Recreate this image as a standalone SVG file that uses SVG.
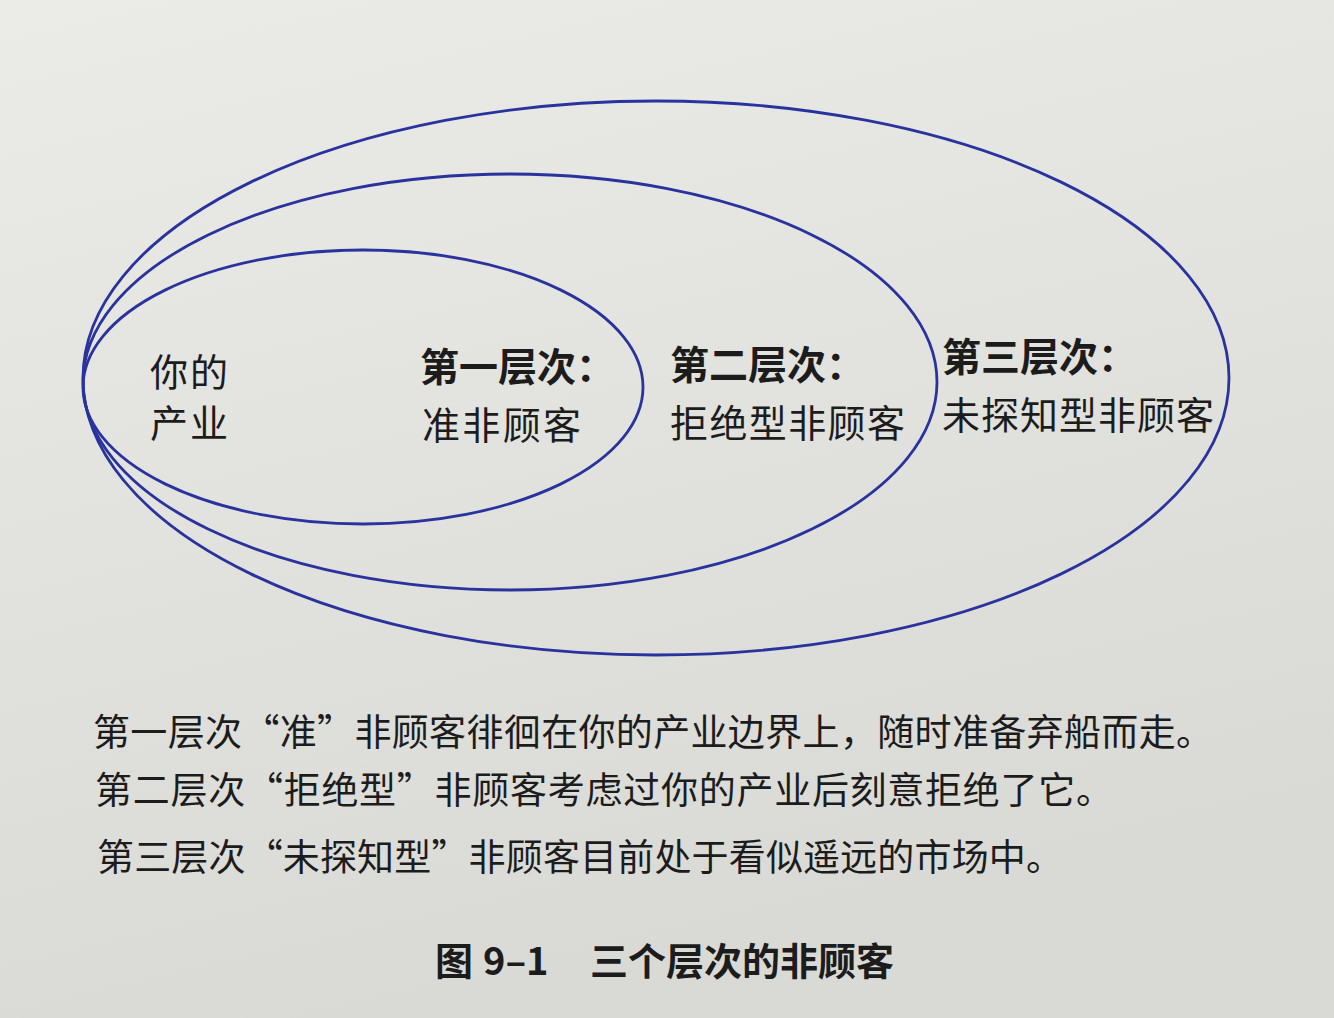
<svg xmlns="http://www.w3.org/2000/svg" width="1334" height="1018" viewBox="0 0 1334 1018">
<defs>
<linearGradient id="paper" x1="0" y1="0" x2="0.3" y2="1">
<stop offset="0" stop-color="#ebebe7"/>
<stop offset="0.5" stop-color="#e2e3df"/>
<stop offset="1" stop-color="#d9dad6"/>
</linearGradient>
<style>
.ring{fill:none;stroke:#2a339d;stroke-width:2.8}
.t{font-family:"Noto Sans CJK SC","Noto Sans",sans-serif;fill:#1c1c1c}
.lab{font-size:38px;font-weight:400}
.hd{font-size:39px;font-weight:700}
.cap{font-size:37px;font-weight:400}
.ttl{font-size:38px;font-weight:700}
</style>
</defs>
<rect x="0" y="0" width="1334" height="1018" fill="url(#paper)"/>
<g id="connectors"></g>
<g id="node-tier3">
<ellipse class="ring" cx="656" cy="378" rx="573" ry="277"/>
<text class="t hd" x="942" y="371">第三层次：</text>
<text class="t lab" x="942" y="429" textLength="272" lengthAdjust="spacing">未探知型非顾客</text>
</g>
<g id="node-tier2">
<ellipse class="ring" cx="510" cy="382" rx="427" ry="208"/>
<text class="t hd" x="670" y="379">第二层次：</text>
<text class="t lab" x="670" y="437" textLength="235" lengthAdjust="spacing">拒绝型非顾客</text>
</g>
<g id="node-tier1">
<ellipse class="ring" cx="363" cy="387" rx="280" ry="137"/>
<text class="t hd" x="420" y="381">第一层次：</text>
<text class="t lab" x="422" y="439" textLength="159" lengthAdjust="spacing">准非顾客</text>
</g>
<g id="node-industry">
<text class="t lab" x="150" y="386" textLength="78" lengthAdjust="spacing">你的</text>
<text class="t lab" x="150" y="437" textLength="78" lengthAdjust="spacing">产业</text>
</g>
<g id="caption">
<text class="t cap" x="93" y="746" textLength="1120" lengthAdjust="spacing">第一层次“准”非顾客徘徊在你的产业边界上，随时准备弃船而走。</text>
<text class="t cap" x="95" y="804" textLength="1018" lengthAdjust="spacing">第二层次“拒绝型”非顾客考虑过你的产业后刻意拒绝了它。</text>
<text class="t cap" x="97" y="871" textLength="966" lengthAdjust="spacing">第三层次“未探知型”非顾客目前处于看似遥远的市场中。</text>
<text class="t ttl" y="975"><tspan x="435">图</tspan><tspan x="483">9–1</tspan><tspan x="590">三个层次的非顾客</tspan></text>
</g>
</svg>
